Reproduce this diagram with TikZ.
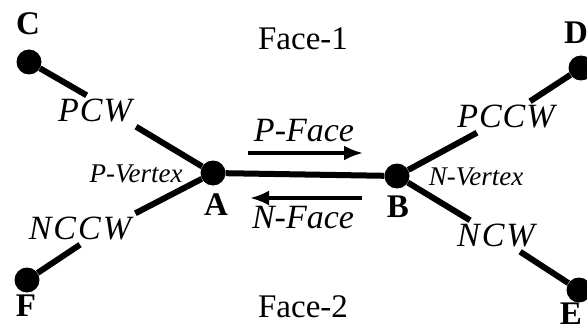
\documentclass[tikz,border=0pt]{standalone}
\usepackage{fontspec}
\setmainfont{Liberation Serif}
\usetikzlibrary{arrows.meta}

\begin{document}
\begin{tikzpicture}[x=1pt, y=-1pt, >={Latex[length=19pt,width=15pt]},
    dot/.style={circle, fill, inner sep=0pt, minimum size=25pt},
    vname/.style={font=\fontsize{33}{38}\selectfont\bfseries, inner sep=0pt},
    elab/.style={font=\fontsize{34}{39}\selectfont\itshape, inner sep=4pt},
    vlab/.style={font=\fontsize{27}{31}\selectfont\itshape, inner sep=0pt},
    flab/.style={font=\fontsize{33}{38}\selectfont, inner sep=0pt},
    edge/.style={line width=6pt},
    dir/.style={->, line width=3.5pt}]
    \useasboundingbox (0,0) rectangle (587,329);

    % 顶点
    \node[dot] (C) at (29,62) {};
    \node[dot] (A) at (213,173) {};
    \node[dot] (F) at (27,280) {};
    \node[dot] (B) at (397,176) {};
    \node[dot] (D) at (581,68) {};
    \node[dot] (E) at (579,290) {};
    \node[vname] (lC) at (28,24) {C};
    \node[vname] (lA) at (216,205) {A};
    \node[vname] (lF) at (26,306) {F};
    \node[vname] (lB) at (398,207) {B};
    \node[vname] (lD) at (576,33) {D};
    \node[vname] (lE) at (571,314) {E};

    % 面
    \node[flab] (f1) at (303,39) {Face-1};
    \node[flab] (f2) at (303,307) {Face-2};

    % 边的标注
    \node[elab] (PCW) at (95,111) {P\kern1pt C\kern1pt W};
    \node[elab] (NCCW) at (80,229) {N\kern2pt C\kern2pt C\kern2pt W};
    \node[elab] (PCCW) at (506,117) {P\kern1pt C\kern1pt C\kern1pt W};
    \node[elab] (NCW) at (496,236) {N\kern2pt C\kern2pt W};
    \node[vlab] (pv) at (136,174) {P-Vertex};
    \node[vlab] (nv) at (476,177) {N-Vertex};

    % 边
    \draw[edge] (A) -- (B);
    \draw[edge] (C) -- (PCW.118);
    \draw[edge] (PCW.south east) -- (A);
    \draw[edge] (A) -- (NCCW.north east);
    \draw[edge] (NCCW.south) -- (F);
    \draw[edge] (B) -- (PCCW);
    \draw[edge] (PCCW) -- (D);
    \draw[edge] (B) -- (NCW);
    \draw[edge] (NCW) -- (E);

    % 方向箭头
    \node[elab, inner sep=0pt] (pf) at (304,131) {P-Face};
    \coordinate (pfs) at (248,153);
    \coordinate (pfe) at (363,153);
    \draw[dir] (pfs) -- (pfe);
    \node[elab, inner sep=0pt] (nf) at (303,218) {N-Face};
    \coordinate (nfs) at (362,198);
    \coordinate (nfe) at (250,198);
    \draw[dir] (nfs) -- (nfe);
\end{tikzpicture}
\end{document}
